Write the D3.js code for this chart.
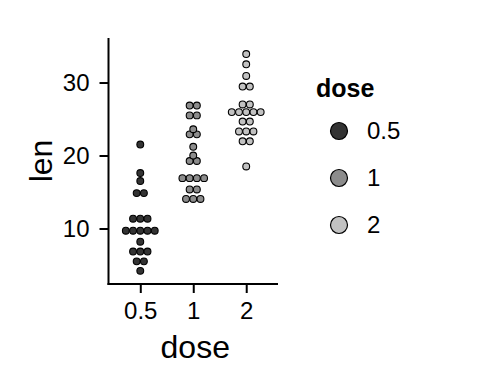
<!DOCTYPE html>
<html><head><meta charset="utf-8">
<script src="https://cdn.jsdelivr.net/npm/d3@7"></script>
<style>
html,body{margin:0;padding:0;background:#fff;}
text{font-family:"Liberation Sans",Arial,Helvetica,sans-serif;}
</style></head>
<body>
<svg id="chart" width="480" height="384"></svg>
<script>
// ToothGrowth "len" values by dose
const doses = ["0.5", "1", "2"];
const len05 = [4.2, 11.5, 7.3, 5.8, 6.4, 10, 11.2, 11.2, 5.2, 7, 15.2, 21.5, 17.6, 9.7, 14.5, 10, 8.2, 9.4, 16.5, 9.7];
const len1 = [16.5, 16.5, 15.2, 17.3, 22.5, 17.3, 13.6, 14.5, 18.8, 15.5, 19.7, 23.3, 23.6, 26.4, 20, 25.2, 25.8, 21.2, 14.5, 27.3];
const len2 = [23.6, 18.5, 33.9, 25.5, 26.4, 32.5, 26.7, 21.5, 23.3, 29.5, 25.5, 26.4, 22.4, 24.5, 24.8, 30.9, 26.4, 27.3, 29.4, 23];
const yTicks = [10, 20, 30];
const fills = ["#333333", "#8c8c8c", "#c2c2c2"];

const groups = [len05, len1, len2];
const all = groups.flat();
const binwidth = (d3.max(all) - d3.min(all)) / 30;

// dot-density binning (as in ggplot2 geom_dotplot)
function densityBin(vals) {
  const xs = vals.slice().sort((a, b) => a - b);
  const bins = [];
  let binend = -Infinity, cur = null;
  for (const v of xs) {
    if (v >= binend) { binend = v + binwidth; cur = []; bins.push(cur); }
    cur.push(v);
  }
  return bins.map(b => ({ center: (d3.min(b) + d3.max(b)) / 2, count: b.length }));
}

const svg = d3.select("#chart");
const pL = 108.5, pR = 278, pT = 38, pB = 284;

const xp = d3.scalePoint().domain(doses).range([pL, pR]).padding(0.6);
const y = d3.scaleLinear().domain([2.4, 36.1]).range([pB, pT]);

const dotD = Math.abs(y(0) - y(binwidth));

// dots
groups.forEach((g, gi) => {
  const bins = densityBin(g);
  const cx0 = xp(doses[gi]);
  bins.forEach(b => {
    for (let i = 0; i < b.count; i++) {
      const off = (i + 1 - (b.count + 1) / 2) * dotD;
      svg.append("circle")
        .attr("cx", cx0 + off)
        .attr("cy", y(b.center))
        .attr("r", dotD / 2 - 0.2)
        .attr("fill", fills[gi])
        .attr("stroke", "#000")
        .attr("stroke-width", 1.1);
    }
  });
});

// axes
const yAxis = svg.append("g").attr("transform", `translate(${pL},0)`)
  .call(d3.axisLeft(y).tickValues(yTicks).tickSize(9).tickSizeOuter(0).tickPadding(10));
const xAxis = svg.append("g").attr("transform", `translate(0,${pB})`)
  .call(d3.axisBottom(xp).tickSize(9).tickSizeOuter(0).tickPadding(9));
[yAxis, xAxis].forEach(a => {
  a.select(".domain").attr("stroke", "#000").attr("stroke-width", 2);
  a.selectAll(".tick line").attr("stroke", "#000").attr("stroke-width", 2);
  a.selectAll(".tick text").attr("fill", "#000").style("font-size", "24px")
    .style("font-family", '"Liberation Sans",Arial,sans-serif');
});
// make axis lines meet at the corner
yAxis.select(".domain").attr("d", `M0,${pT}V${pB + 1}`);
xAxis.select(".domain").attr("d", `M${pL - 1},0H${pR}`);

// axis titles
svg.append("text").attr("x", (pL + pR) / 2 + 2).attr("y", 358)
  .attr("text-anchor", "middle").style("font-size", "32px").text("dose");
svg.append("text").attr("transform", `translate(52,${(pT + pB) / 2}) rotate(-90)`)
  .attr("text-anchor", "middle").style("font-size", "32px").text("len");

// legend
const lg = svg.append("g");
lg.append("text").attr("x", 316).attr("y", 97).style("font-size", "25px")
  .style("font-weight", "bold").text("dose");
doses.forEach((d, i) => {
  const cy = 131 + i * 47;
  lg.append("circle").attr("cx", 339).attr("cy", cy).attr("r", 8.5)
    .attr("fill", fills[i]).attr("stroke", "#000").attr("stroke-width", 1.2);
  lg.append("text").attr("x", 367).attr("y", cy).attr("dy", "0.35em")
    .style("font-size", "24px").text(d);
});
</script>
</body></html>
